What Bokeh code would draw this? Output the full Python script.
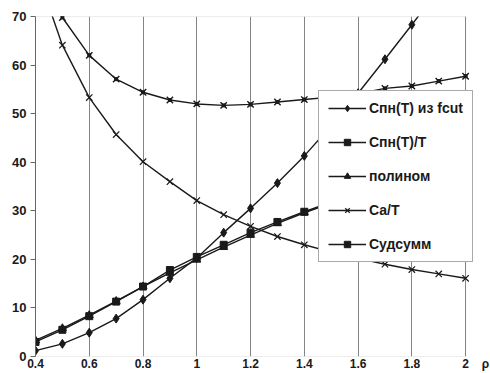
from bokeh.plotting import figure
from bokeh.models import Legend, LegendItem, BoxAnnotation, FixedTicker, Range1d
from bokeh.embed import file_html
from bokeh.resources import INLINE

x = [0.4, 0.5, 0.6, 0.7, 0.8, 0.9, 1.0, 1.1, 1.2, 1.3, 1.4, 1.5, 1.6, 1.7, 1.8, 1.9, 2.0]
spn_fcut = [1.2, 2.6, 4.9, 7.8, 11.7, 16.1, 20.3, 25.5, 30.5, 35.7, 41.3, 47.5, 54.2, 61.2, 68.3, 75.6, 83.0]
spn_t = [3.0, 5.5, 8.3, 11.3, 14.4, 17.8, 20.5, 23.0, 25.5, 27.7, 29.8, 31.8, 33.8, 35.7, 37.5, 39.3, 41.6]
polinom = [3.3, 5.8, 8.5, 11.4, 14.4, 17.2, 19.9, 22.5, 25.0, 27.4, 29.6, 31.6, 33.6, 35.5, 37.3, 39.1, 41.3]
ca_t = [80.0, 64.1, 53.3, 45.7, 40.1, 36.0, 32.1, 29.2, 26.8, 24.7, 23.0, 21.5, 20.2, 19.0, 17.9, 17.0, 16.1]
sudsumm = [83.0, 69.8, 62.0, 57.1, 54.4, 52.8, 52.0, 51.7, 51.9, 52.4, 52.9, 53.4, 54.1, 55.2, 55.7, 56.7, 57.7]
x_ticks = [0.4, 0.6, 0.8, 1.0, 1.2, 1.4, 1.6, 1.8, 2.0]
x_tick_labels = {0.4: "0.4", 0.6: "0.6", 0.8: "0.8", 1.0: "1", 1.2: "1.2", 1.4: "1.4", 1.6: "1.6", 1.8: "1.8", 2.0: "2"}
y_ticks = [0, 10, 20, 30, 40, 50, 60, 70]
x_axis_title = "ρ"

FONT = "Liberation Sans"
INK = "#1a1a1a"
GRID = "#858585"

X0, X1, Y0, Y1 = 0.4, 2.0, 0, 70
# extra room to the right of x = 2 where the axis title sits, as on the original
X_EXTRA = 2.074

p = figure(width=490, height=373, output_backend="svg", toolbar_location=None,
           x_range=Range1d(X0, X_EXTRA), y_range=Range1d(Y0, Y1),
           min_border_left=35, min_border_right=5, min_border_top=16, min_border_bottom=16)
p.background_fill_color = "white"
p.border_fill_color = "white"
p.outline_line_color = None

p.xgrid.ticker = FixedTicker(ticks=x_ticks)
p.xgrid.grid_line_color = GRID
p.xgrid.grid_line_width = 1
p.ygrid.grid_line_color = None

p.xaxis.ticker = FixedTicker(ticks=x_ticks + [X_EXTRA])
p.xaxis.major_label_overrides = {**x_tick_labels, X_EXTRA: x_axis_title}
p.yaxis.ticker = FixedTicker(ticks=y_ticks)
for ax in (p.xaxis[0], p.yaxis[0]):
    ax.major_label_text_font = FONT
    ax.major_label_text_font_style = "bold"
    ax.major_label_text_font_size = "13px"
    ax.major_label_text_color = INK
    ax.minor_tick_line_color = None
    ax.major_tick_in = 0
p.xaxis.major_label_text_font_size = "12px"
p.xaxis.axis_line_color = None
p.xaxis.major_tick_out = 0
p.xaxis.major_label_standoff = 0
p.yaxis.axis_line_color = "#666666"
p.yaxis.major_tick_line_color = "#666666"
p.yaxis.major_tick_out = 5
p.yaxis.major_label_standoff = 4

# plot-area border (the frame of the data region 0.4..2 x 0..70)
p.add_layout(BoxAnnotation(left=X0, right=X1, bottom=Y0, top=Y1, fill_alpha=0,
                           line_color=GRID, line_width=1, level="underlay"))

LW = 1.4
r1l = p.line(x, spn_fcut, line_color=INK, line_width=LW)
r1m = p.scatter(x, spn_fcut, marker="diamond", size=9, fill_color=INK, line_color=INK)
r2l = p.line(x, spn_t, line_color=INK, line_width=LW)
r2m = p.scatter(x, spn_t, marker="square", size=7, fill_color=INK, line_color=INK)
r3l = p.line(x, polinom, line_color=INK, line_width=LW)
r3m = p.scatter(x, polinom, marker="triangle", size=8, fill_color=INK, line_color=INK)
r4l = p.line(x, ca_t, line_color=INK, line_width=LW)
r4m = p.scatter(x, ca_t, marker="x", size=9, line_color=INK, line_width=1.2)
r5l = p.line(x, sudsumm, line_color=INK, line_width=LW)
r5m = p.scatter(x, sudsumm, marker="x", size=9, line_color=INK, line_width=1.4)
r5d = p.scatter(x, sudsumm, marker="square", size=3, fill_color=INK, line_color=INK)

legend = Legend(items=[
    LegendItem(label="Спн(Т) из fcut", renderers=[r1l, r1m]),
    LegendItem(label="Спн(Т)/Т", renderers=[r2l, r2m]),
    LegendItem(label="полином", renderers=[r3l, r3m]),
    LegendItem(label="Са/Т", renderers=[r4l, r4m]),
    LegendItem(label="Судсумм", renderers=[r5l, r5m, r5d]),
], location=(283, 94))
legend.label_text_font = FONT
legend.label_text_font_style = "bold"
legend.label_text_font_size = "14px"
legend.label_text_color = INK
legend.label_standoff = 3
legend.glyph_width = 38
legend.glyph_height = 16
legend.label_height = 16
legend.spacing = 18
legend.padding = 9
legend.margin = 0
legend.border_line_color = "#555555"
legend.border_line_width = 1
legend.background_fill_color = "white"
legend.background_fill_alpha = 1.0
p.add_layout(legend, "center")

open("out.html", "w").write(file_html(p, INLINE))
